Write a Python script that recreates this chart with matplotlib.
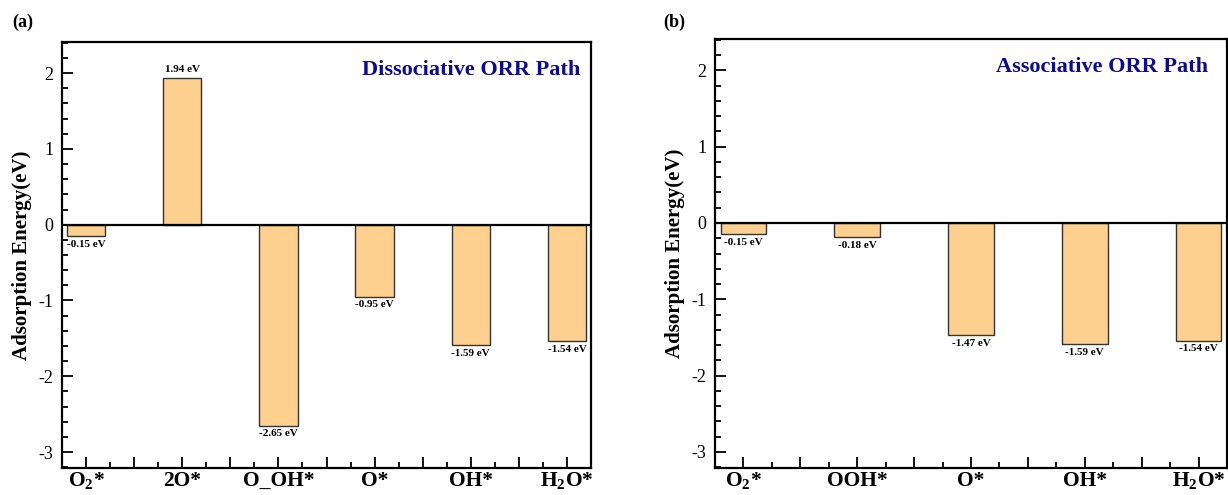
import matplotlib.pyplot as plt
from matplotlib.ticker import MultipleLocator, FuncFormatter

plt.rcParams['font.family'] = ['Liberation Serif', 'DejaVu Serif']
plt.rcParams['mathtext.fontset'] = 'custom'
plt.rcParams['mathtext.rm'] = 'Liberation Serif'
plt.rcParams['mathtext.bf'] = 'Liberation Serif:bold'

# data
dissLabels = [r'O$_\mathbf{2}$*', '2O*', 'O_OH*', 'O*', 'OH*', r'H$_\mathbf{2}$O*']
dissEnergy = [-0.15, 1.94, -2.65, -0.95, -1.59, -1.54]
assocLabels = [r'O$_\mathbf{2}$*', 'OOH*', 'O*', 'OH*', r'H$_\mathbf{2}$O*']
assocEnergy = [-0.15, -0.18, -1.47, -1.59, -1.54]

barColor = '#FDD08F'
titleColor = '#0A0A96'

fig = plt.figure(figsize=(12.28, 4.95), dpi=100)
axA = fig.add_axes([62 / 1228, 1 - 468 / 495, 529 / 1228, 426 / 495])
axB = fig.add_axes([715 / 1228, 1 - 468 / 495, 512 / 1228, 429 / 495])


def drawPanel(ax, labels, values, title, titleX, titleY):
    x = list(range(len(values)))
    ax.bar(x, values, width=0.4, color=barColor, edgecolor='#333333', linewidth=1.0, zorder=2)
    ax.axhline(0, color='black', linewidth=1.6, zorder=3)

    for xi, v in zip(x, values):
        if v < 0:
            ax.text(xi, v - 0.05, f'{v:.2f} eV', ha='center', va='top', fontsize=8, fontweight='bold')
        else:
            ax.text(xi, v + 0.05, f'{v:.2f} eV', ha='center', va='bottom', fontsize=8, fontweight='bold')

    ax.set_xlim(-0.25, len(values) - 0.75)
    ax.set_ylim(-3.21, 2.41)

    ax.xaxis.set_major_locator(MultipleLocator(0.5))
    ax.xaxis.set_minor_locator(MultipleLocator(0.25))
    ax.xaxis.set_major_formatter(FuncFormatter(
        lambda val, pos: labels[int(round(val))] if abs(val - round(val)) < 1e-6 and 0 <= round(val) < len(labels) else ''))
    ax.yaxis.set_major_locator(MultipleLocator(1))
    ax.yaxis.set_minor_locator(MultipleLocator(0.2))
    ax.yaxis.set_major_formatter(FuncFormatter(lambda val, pos: f'{val:.0f}'))

    ax.tick_params(which='both', direction='in', top=False, right=False, width=1.3)
    ax.tick_params(which='major', length=8)
    ax.tick_params(which='minor', length=4.5)
    ax.tick_params(axis='y', labelsize=13, pad=6)
    ax.tick_params(axis='x', labelsize=15.5, pad=2)
    for lbl in ax.get_xticklabels():
        lbl.set_fontweight('bold')

    for sp in ax.spines.values():
        sp.set_linewidth(1.6)

    ax.set_ylabel('Adsorption Energy(eV)', fontsize=15, fontweight='bold', labelpad=5)
    ax.text(titleX, titleY, title, transform=ax.transAxes, ha='right', va='center',
            fontsize=16, fontweight='bold', color=titleColor)


drawPanel(axA, dissLabels, dissEnergy, 'Dissociative ORR Path', 0.979, 0.934)
drawPanel(axB, assocLabels, assocEnergy, 'Associative ORR Path', 0.963, 0.935)

fig.text(12 / 1228, 1 - 22 / 495, '(a)', fontsize=13, fontweight='bold', va='center', ha='left')
fig.text(663 / 1228, 1 - 22 / 495, '(b)', fontsize=13, fontweight='bold', va='center', ha='left')

fig.savefig('out.png', dpi=100)
